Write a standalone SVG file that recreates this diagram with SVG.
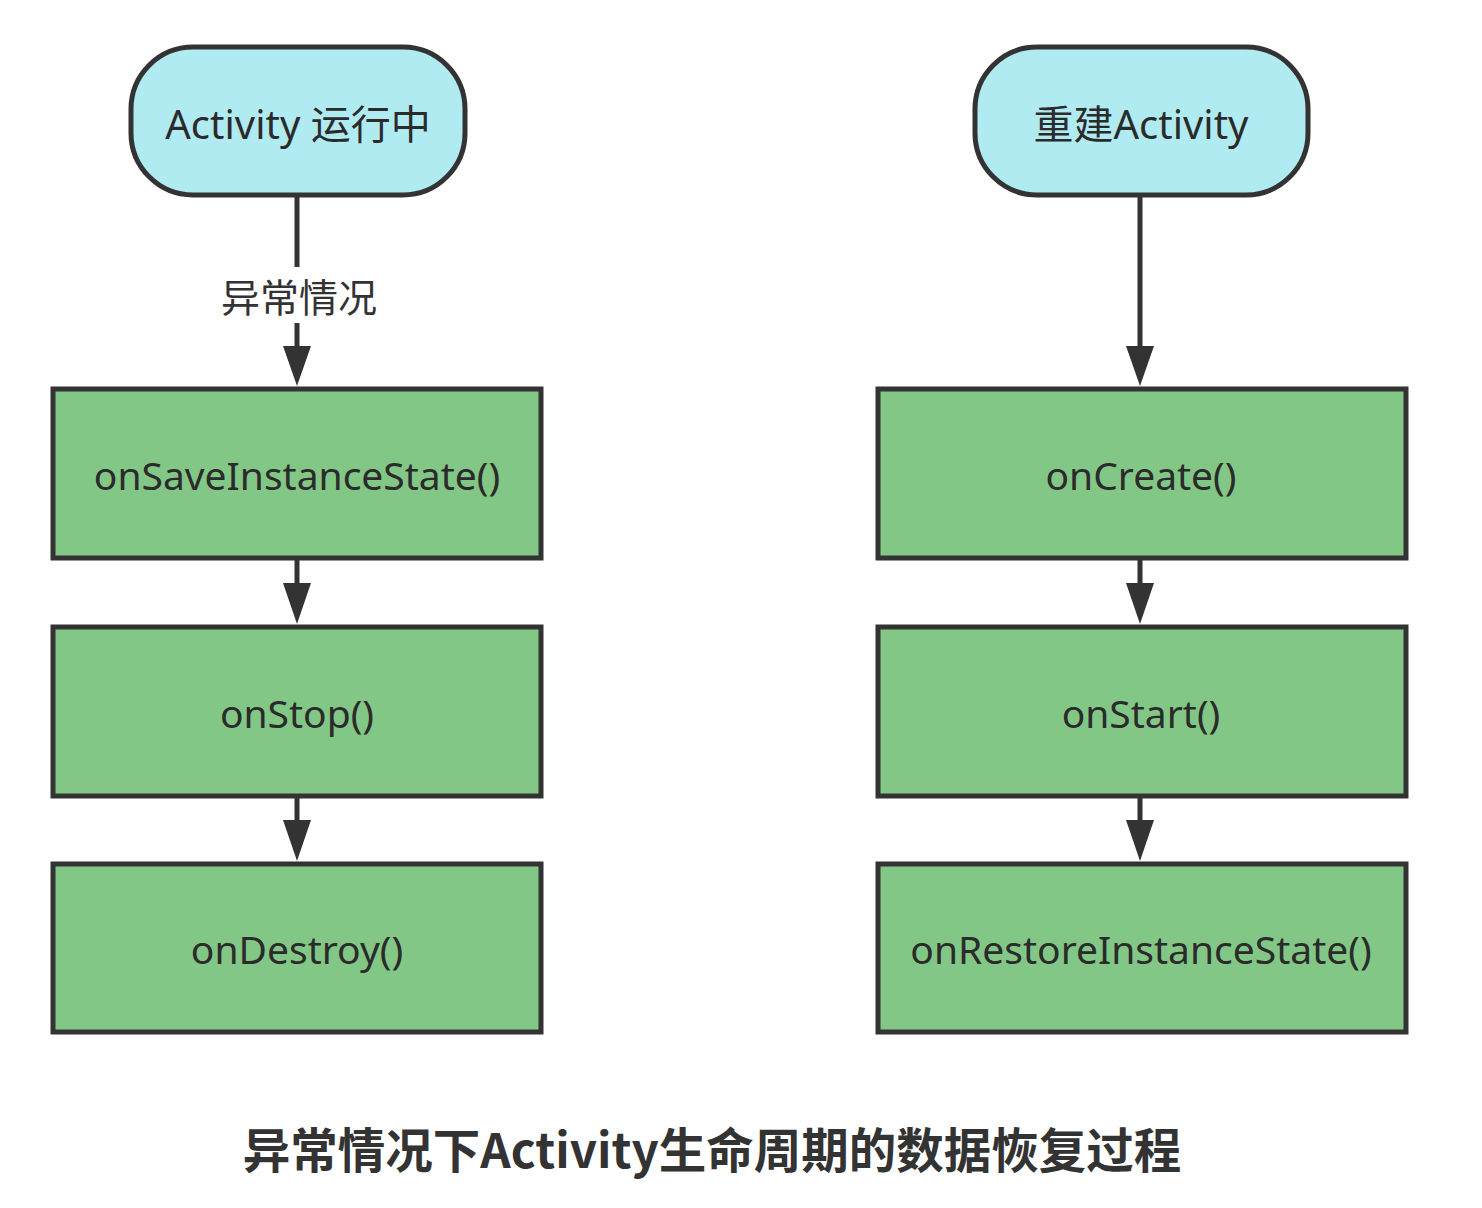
<svg xmlns="http://www.w3.org/2000/svg" width="1482" height="1208" viewBox="0 0 1482 1208">
<style>
.term{fill:#b1ebf2;stroke:#333;stroke-width:5}
.box{fill:#82c785;stroke:#333;stroke-width:5}
.t{font-family:"Noto Sans","Noto Sans CJK SC",sans-serif;font-size:39px;fill:#2b2b2b;text-anchor:middle;dominant-baseline:central}
.tt{font-size:40px}
.edge{stroke:#333;stroke-width:5;fill:none}
.lbl{font-family:"Noto Sans CJK SC",sans-serif;font-size:39px;fill:#333;text-anchor:middle;dominant-baseline:central}
.title{font-family:"Noto Sans CJK SC",sans-serif;font-size:47.5px;font-weight:bold;fill:#333;text-anchor:middle;dominant-baseline:central}
</style>
<rect width="1482" height="1208" fill="#fff"/>
<g id="connectors">
<path class="edge" d="M297,195 V267"/>
<path class="edge" d="M297,323 V348"/>
<path d="M283,346 L311,346 L297,386 Z" fill="#333"/>
<path class="edge" d="M297,558 V585"/>
<path d="M283,583 L311,583 L297,624 Z" fill="#333"/>
<path class="edge" d="M297,796 V822"/>
<path d="M283,820 L311,820 L297,861 Z" fill="#333"/>
<path class="edge" d="M1140,195 V348"/>
<path d="M1126,346 L1154,346 L1140,386 Z" fill="#333"/>
<path class="edge" d="M1140,558 V585"/>
<path d="M1126,583 L1154,583 L1140,624 Z" fill="#333"/>
<path class="edge" d="M1140,796 V822"/>
<path d="M1126,820 L1154,820 L1140,861 Z" fill="#333"/>
<text class="lbl" x="299" y="295">异常情况</text>
</g>
<g id="n_running">
<rect class="term" x="131" y="47" width="334" height="148" rx="62" ry="62"/>
<text class="t tt" x="298" y="123">Activity 运行中</text>
</g>
<g id="n_rebuild">
<rect class="term" x="975" y="47" width="333" height="148" rx="62" ry="62"/>
<text class="t tt" x="1141" y="123">重建Activity</text>
</g>
<g id="n_save">
<rect class="box" x="53" y="389" width="488" height="169"/>
<text class="t" x="297" y="474">onSaveInstanceState()</text>
</g>
<g id="n_stop">
<rect class="box" x="53" y="627" width="488" height="169"/>
<text class="t" x="297" y="712">onStop()</text>
</g>
<g id="n_destroy">
<rect class="box" x="53" y="864" width="488" height="168"/>
<text class="t" x="297" y="948">onDestroy()</text>
</g>
<g id="n_create">
<rect class="box" x="878" y="389" width="528" height="169"/>
<text class="t" x="1141" y="474">onCreate()</text>
</g>
<g id="n_start">
<rect class="box" x="878" y="627" width="528" height="169"/>
<text class="t" x="1141" y="712">onStart()</text>
</g>
<g id="n_restore">
<rect class="box" x="878" y="864" width="528" height="168"/>
<text class="t" x="1141" y="948">onRestoreInstanceState()</text>
</g>
<text class="title" x="712" y="1147">异常情况下Activity生命周期的数据恢复过程</text>
</svg>
